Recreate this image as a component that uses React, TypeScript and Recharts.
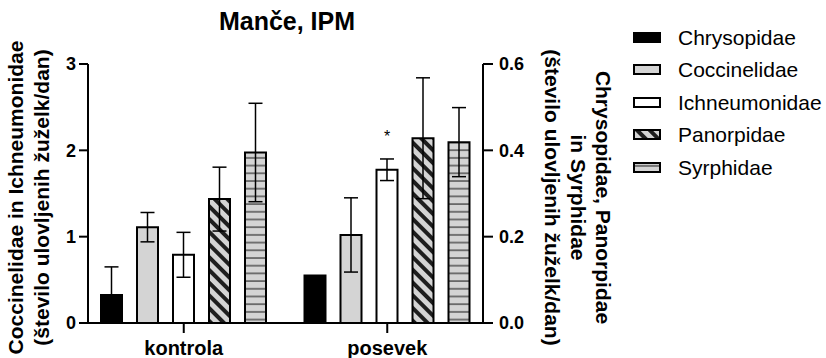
import React from 'react';
import { BarChart, Bar, XAxis, YAxis, ErrorBar, Legend, LabelList } from 'recharts';

// skupine in povprečja (odčitano s slike)
const categories = ['kontrola', 'posevek'];
const chrysopidae = [0.065, 0.11];
const chrysopidaeErr = [0.065, 0];
const coccinelidae = [1.11, 1.02];
const coccinelidaeErr = [0.17, 0.43];
const ichneumonidae = [0.79, 1.775];
const ichneumonidaeErr = [0.26, 0.125];
const panorpidae = [0.287, 0.428];
const panorpidaeErr = [0.074, 0.14];
const syrphidae = [0.395, 0.419];
const syrphidaeErr = [0.114, 0.08];
const significance = ['', '*'];

const leftTicks = [0, 1, 2, 3];
const rightTicks = [0, 0.2, 0.4, 0.6];

const FONT = '"Liberation Sans", Arial, Helvetica, sans-serif';
const GRAY = '#d4d4d4';

const series = [
  { key: 'chrysopidae', name: 'Chrysopidae', axis: 'right', fill: '#000000' },
  { key: 'coccinelidae', name: 'Coccinelidae', axis: 'left', fill: GRAY },
  { key: 'ichneumonidae', name: 'Ichneumonidae', axis: 'left', fill: '#ffffff' },
  { key: 'panorpidae', name: 'Panorpidae', axis: 'right', fill: 'url(#diag)' },
  { key: 'syrphidae', name: 'Syrphidae', axis: 'right', fill: 'url(#horiz)' },
];

const data = categories.map((name, i) => ({
  name,
  chrysopidae: chrysopidae[i],
  chrysopidaeErr: chrysopidaeErr[i],
  coccinelidae: coccinelidae[i],
  coccinelidaeErr: coccinelidaeErr[i],
  ichneumonidae: ichneumonidae[i],
  ichneumonidaeErr: ichneumonidaeErr[i],
  panorpidae: panorpidae[i],
  panorpidaeErr: panorpidaeErr[i],
  syrphidae: syrphidae[i],
  syrphidaeErr: syrphidaeErr[i],
  sig: significance[i],
}));

const yTickStyle = { fontSize: 18, fontWeight: 700, fill: '#000', fontFamily: FONT };
const xTickStyle = { fontSize: 20, fontWeight: 700, fill: '#000', fontFamily: FONT };

function LeftLabel(props: any) {
  const vb = props.viewBox;
  const cy = vb.y + vb.height / 2 + 4;
  const lines = ['Coccinelidae in Ichneumonidae', '(število ulovljenih žuželk/dan)'];
  const xs = [vb.x + 15, vb.x + 41];
  return (
    <g>
      {lines.map((t, i) => (
        <text key={i} x={xs[i]} y={cy} transform={`rotate(-90 ${xs[i]} ${cy})`} textAnchor="middle"
          dominantBaseline="central" fontSize={21} fontWeight={700} fontFamily={FONT} fill="#000">{t}</text>
      ))}
    </g>
  );
}

function RightLabel(props: any) {
  const vb = props.viewBox;
  const cy = vb.y + vb.height / 2 + 4;
  const lines = ['Chrysopidae, Panorpidae', 'in Syrphidae', '(število ulovljenih žuželk/dan)'];
  const xs = [vb.x + 120, vb.x + 95, vb.x + 69];
  return (
    <g>
      {lines.map((t, i) => (
        <text key={i} x={xs[i]} y={cy} transform={`rotate(90 ${xs[i]} ${cy})`} textAnchor="middle"
          dominantBaseline="central" fontSize={21} fontWeight={700} fontFamily={FONT} fill="#000">{t}</text>
      ))}
    </g>
  );
}

function Swatch({ fill }: { fill: string }) {
  return (
    <svg width={28} height={11} style={{ display: 'block' }}>
      <rect x={1} y={1} width={26} height={9} fill={fill} stroke="#000" strokeWidth={2} />
    </svg>
  );
}

function renderLegend() {
  return (
    <div style={{ fontFamily: FONT, fontSize: 21, color: '#000' }}>
      {series.map(s => (
        <div key={s.key} style={{ display: 'flex', alignItems: 'center', height: 32.5 }}>
          <Swatch fill={s.fill} />
          <span style={{ marginLeft: 17, lineHeight: 1 }}>{s.name}</span>
        </div>
      ))}
    </div>
  );
}

function Star(props: any) {
  const { x, y, width, value } = props;
  if (!value) return null;
  return (
    <text x={x + width / 2} y={y - 28} textAnchor="middle" fontSize={16} fontFamily={FONT} fill="#000">{value}</text>
  );
}

export default function App() {
  return (
    <div style={{ position: 'absolute', left: 0, top: 0, background: '#fff' }}>
      <BarChart width={826} height={358} data={data} barSize={21} barGap={15}
        margin={{ top: 64, right: 223, bottom: 0, left: 0 }}>
        <defs>
          <pattern id="diag" patternUnits="userSpaceOnUse" width={9} height={9} patternTransform="rotate(-45)">
            <rect width={9} height={9} fill={GRAY} />
            <rect width={4} height={9} fill="#1e1e1e" />
          </pattern>
          <pattern id="horiz" patternUnits="userSpaceOnUse" width={8} height={7.7}>
            <rect width={8} height={7.7} fill={GRAY} />
            <rect y={3.2} width={8} height={1.4} fill="#4a4a4a" />
          </pattern>
        </defs>
        <text x={287} y={30} textAnchor="middle" fontSize={25} fontWeight={700} fontFamily={FONT} fill="#000">
          Manče, IPM
        </text>
        <XAxis dataKey="name" height={35} padding={{ left: -6, right: -6 }} tick={xTickStyle}
          tickSize={10} tickMargin={8} axisLine={{ stroke: '#000', strokeWidth: 2 }}
          tickLine={{ stroke: '#000', strokeWidth: 2 }} />
        <YAxis yAxisId="left" orientation="left" width={88} domain={[0, 3]} ticks={leftTicks}
          interval={0} tick={yTickStyle} tickSize={9} tickMargin={3}
          axisLine={{ stroke: '#000', strokeWidth: 2 }} tickLine={{ stroke: '#000', strokeWidth: 2 }}
          label={{ content: LeftLabel }} />
        <YAxis yAxisId="right" orientation="right" width={120} domain={[0, 0.6]} ticks={rightTicks}
          interval={0} tick={yTickStyle} tickSize={10} tickMargin={6}
          tickFormatter={(v: number) => v.toFixed(1)}
          axisLine={{ stroke: '#000', strokeWidth: 2 }} tickLine={{ stroke: '#000', strokeWidth: 2 }}
          label={{ content: RightLabel }} />
        {series.map(s => (
          <Bar key={s.key} dataKey={s.key} name={s.name} yAxisId={s.axis} fill={s.fill}
            stroke="#000" strokeWidth={2} isAnimationActive={false}>
            <ErrorBar dataKey={`${s.key}Err`} width={7} stroke="#000" strokeWidth={1.5} direction="y" />
            {s.key === 'ichneumonidae' && <LabelList dataKey="sig" content={Star} />}
          </Bar>
        ))}
        <Legend content={renderLegend} layout="horizontal" verticalAlign="middle" align="center"
          wrapperStyle={{ left: 633, top: 21, width: 193, height: 165 }} />
      </BarChart>
    </div>
  );
}
